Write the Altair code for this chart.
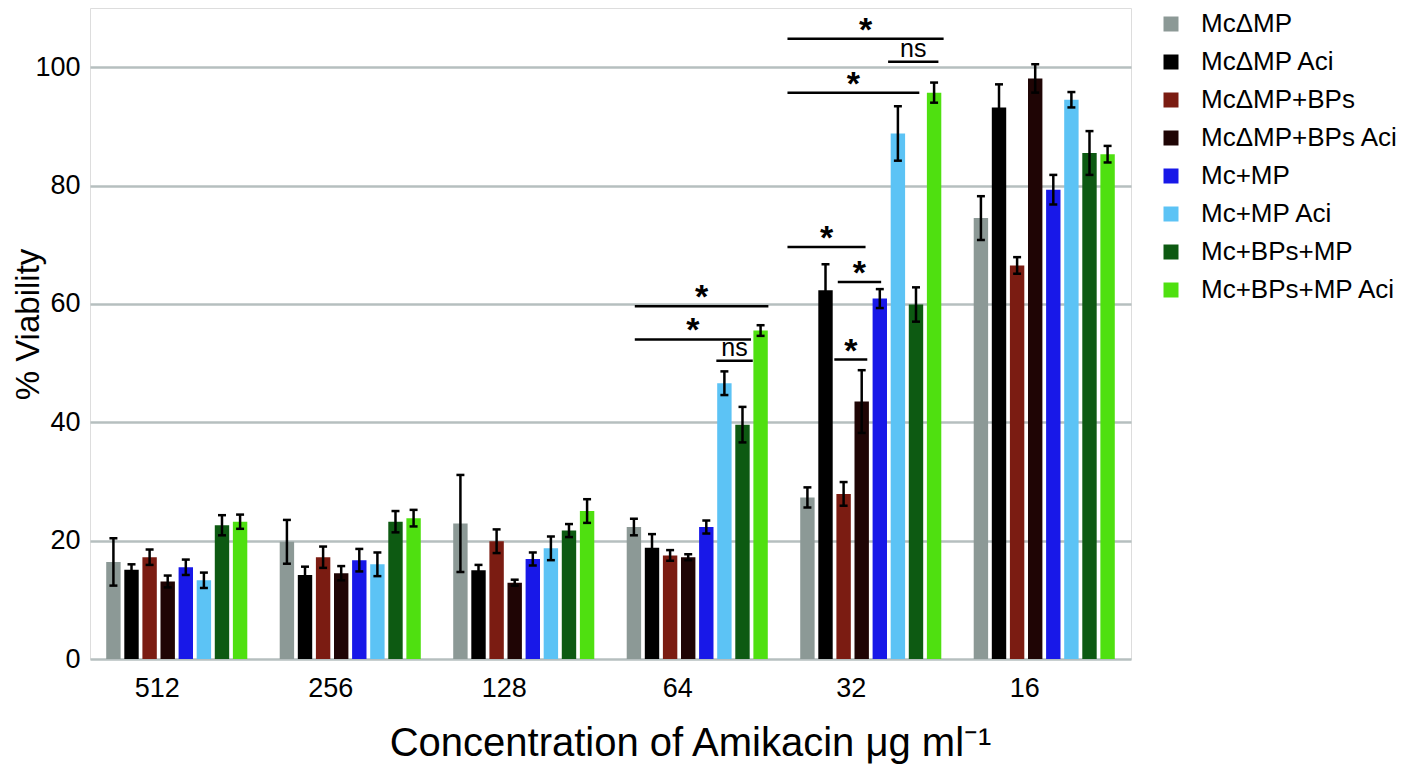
import altair as alt
import pandas as pd

concentrations = ["512", "256", "128", "64", "32", "16"]
series = ["McΔMP", "McΔMP Aci", "McΔMP+BPs", "McΔMP+BPs Aci",
          "Mc+MP", "Mc+MP Aci", "Mc+BPs+MP", "Mc+BPs+MP Aci"]
colors = ["#8c9996", "#000000", "#7b1c12", "#1f0505",
          "#1818e8", "#5cc3f5", "#0d5a12", "#4fe010"]

values = {
    "McΔMP":          [16.4, 19.8, 22.9, 22.3, 27.3, 74.5],
    "McΔMP Aci":      [15.1, 14.2, 15.0, 18.8, 62.3, 93.2],
    "McΔMP+BPs":      [17.2, 17.2, 19.9, 17.5, 27.9, 66.5],
    "McΔMP+BPs Aci":  [13.1, 14.5, 12.9, 17.2, 43.5, 98.1],
    "Mc+MP":          [15.5, 16.7, 16.9, 22.3, 60.9, 79.3],
    "Mc+MP Aci":      [13.3, 16.0, 18.7, 46.6, 88.8, 94.5],
    "Mc+BPs+MP":      [22.6, 23.2, 21.7, 39.6, 59.9, 85.5],
    "Mc+BPs+MP Aci":  [23.2, 23.8, 25.0, 55.5, 95.7, 85.3],
}
errors = {
    "McΔMP":          [4.0, 3.7, 8.2, 1.4, 1.7, 3.7],
    "McΔMP Aci":      [0.9, 1.4, 0.9, 2.3, 4.4, 3.9],
    "McΔMP+BPs":      [1.3, 1.8, 2.0, 0.9, 2.0, 1.4],
    "McΔMP+BPs Aci":  [1.0, 1.2, 0.5, 0.5, 5.3, 2.4],
    "Mc+MP":          [1.3, 1.9, 1.1, 1.1, 1.6, 2.5],
    "Mc+MP Aci":      [1.3, 2.0, 2.0, 2.0, 4.6, 1.3],
    "Mc+BPs+MP":      [1.7, 1.8, 1.1, 3.0, 2.9, 3.7],
    "Mc+BPs+MP Aci":  [1.2, 1.4, 2.0, 0.9, 1.7, 1.4],
}

# significance brackets: start/end in category units, height in % viability
sig_x1 = [3.14, 3.14, 3.61, 4.02, 4.60, 4.02, 4.02, 4.31, 4.29]
sig_x2 = [3.91, 3.81, 3.82, 4.92, 4.89, 4.78, 4.47, 4.56, 4.48]
sig_y = [59.6, 54.0, 50.4, 104.8, 100.9, 95.7, 69.6, 63.7, 50.6]
sig_label = ["*", "*", "ns", "*", "ns", "*", "*", "*", "*"]

PITCH = 0.1043
HALF = 0.0415
CAP = 0.023

rows = []
for j, s in enumerate(series):
    for i, c in enumerate(concentrations):
        xc = i + 0.5 + (j - 3.5) * PITCH
        v = values[s][i]
        e = errors[s][i]
        rows.append({"series": s, "conc": c, "xc": xc, "x1": xc - HALF, "x2": xc + HALF,
                     "cl": xc - CAP, "cr": xc + CAP, "value": v, "lo": v - e, "hi": v + e})
df = pd.DataFrame(rows)

sig = pd.DataFrame({"x1": sig_x1, "x2": sig_x2, "y": sig_y, "label": sig_label})
sig["xm"] = (sig["x1"] + sig["x2"]) / 2

label_expr = "[" + ",".join("'%s'" % c for c in concentrations) + "][floor(datum.value)]"

xscale = alt.Scale(domain=[0, 6], nice=False, zero=False)
yscale = alt.Scale(domain=[0, 110], nice=False)

xaxis = alt.Axis(values=[i + 0.5 for i in range(6)], labelExpr=label_expr, grid=False,
                 ticks=False, tickSize=0, domain=False, labelFontSize=27, labelFont="Liberation Sans",
                 labelColor="#000000", labelPadding=16, labelOffset=-20, labelBaseline="top",
                 title="Concentration of Amikacin μg ml⁻¹", titleFontSize=40,
                 titleFont="Liberation Sans", titleFontWeight="normal", titleColor="#000000",
                 titleX=600, titleY=96, titleBaseline="alphabetic", titleAlign="center")
yaxis = alt.Axis(values=[0, 20, 40, 60, 80, 100], grid=True, gridColor="#b6bfbf", gridWidth=2.5,
                 ticks=False, tickSize=0, domain=False, labelFontSize=27, labelFont="Liberation Sans",
                 labelColor="#000000", labelPadding=10,
                 title="% Viability", titleFontSize=33, titleFont="Liberation Sans",
                 titleFontWeight="normal", titleColor="#000000", titleAngle=270,
                 titleX=-52, titleY=316, titleBaseline="alphabetic", titleAlign="center")

bars = alt.Chart(df).mark_bar().encode(
    x=alt.X("x1:Q", scale=xscale, axis=xaxis),
    x2="x2:Q",
    y=alt.Y("value:Q", scale=yscale, axis=yaxis),
    y2=alt.datum(0),
    color=alt.Color("series:N", scale=alt.Scale(domain=series, range=colors),
                    legend=alt.Legend(title=None, orient="none", legendX=1068, legendY=3,
                                      symbolType="square", symbolSize=225, symbolStrokeWidth=0,
                                      labelFontSize=26, labelFont="Liberation Sans",
                                      labelColor="#000000", labelOffset=17, rowPadding=12,
                                      padding=0, labelLimit=400)),
)

err = alt.Chart(df).mark_rule(color="black", strokeWidth=2.5).encode(
    x="xc:Q", y="lo:Q", y2="hi:Q")
cap_hi = alt.Chart(df).mark_rule(color="black", strokeWidth=2.5).encode(
    x="cl:Q", x2="cr:Q", y="hi:Q")
cap_lo = alt.Chart(df).mark_rule(color="black", strokeWidth=2.5).encode(
    x="cl:Q", x2="cr:Q", y="lo:Q")

sig_lines = alt.Chart(sig).mark_rule(color="black", strokeWidth=2.5).encode(
    x="x1:Q", x2="x2:Q", y="y:Q")
stars = alt.Chart(sig).transform_filter("datum.label == '*'").mark_text(
    font="Liberation Sans", fontSize=34, fontWeight="bold", baseline="alphabetic", dy=2,
    color="black").encode(x="xm:Q", y="y:Q", text="label:N")
ns = alt.Chart(sig).transform_filter("datum.label == 'ns'").mark_text(
    font="Liberation Sans", fontSize=25, baseline="alphabetic", dy=-5,
    color="black").encode(x="xm:Q", y="y:Q", text="label:N")

chart = alt.layer(bars, err, cap_hi, cap_lo, sig_lines, stars, ns).properties(
    width=1041, height=651,
    autosize=alt.AutoSizeParams(type="none"),
    padding={"left": 82, "top": 0, "right": 279, "bottom": 106},
).configure_view(stroke="#a5aeae", strokeWidth=3).configure(background="white")

chart.save("out.html", embed_options={"renderer": "svg", "actions": False})
